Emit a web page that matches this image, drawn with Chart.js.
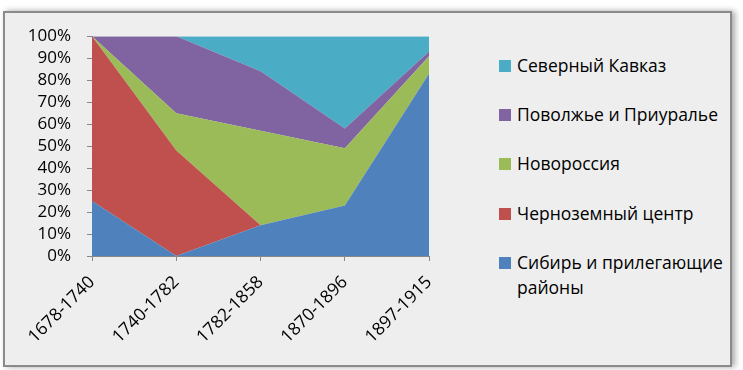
<!DOCTYPE html>
<html>
<head>
<meta charset="utf-8">
<script src="https://cdn.jsdelivr.net/npm/chart.js@4"></script>
<style>
  html, body { margin:0; padding:0; background:#ffffff; width:743px; height:370px; overflow:hidden; }
  #frame { position:absolute; left:3px; top:11px; width:725px; height:352px; border:2px solid #8a8a8a;
           background:#eeeeee; box-shadow: 3px 0px 6px rgba(0,0,0,0.35); }
  #wrap { position:absolute; left:0; top:-3px; width:450px; height:353px; }
  #legend { position:absolute; left:494px; top:0; font-family:"Open Sans", sans-serif; font-size:17.5px; color:#000; }
  .item { position:absolute; left:0; white-space:nowrap; line-height:25px; }
  .box { position:absolute; left:0; top:7px; width:12px; height:12px; }
  .txt { position:absolute; left:18px; top:0; }
</style>
</head>
<body>
<div id="frame">
  <div id="wrap"><canvas id="c"></canvas></div>
  <div id="legend"></div>
</div>
<script>
const categories = ["1678-1740", "1740-1782", "1782-1858", "1870-1896", "1897-1915"];
const seriesNames = ["Сибирь и прилегающие районы", "Черноземный центр", "Новороссия", "Поволжье и Приуралье", "Северный Кавказ"];
const siberia   = [25, 0, 14, 23, 83];
const chernozem = [75, 48, 0, 0, 0];
const novoross  = [0, 17, 43, 26, 8];
const povolzhye = [0, 35, 27, 9, 2];
const kavkaz    = [0, 0, 16, 42, 7];
const yTicks = [0, 10, 20, 30, 40, 50, 60, 70, 80, 90, 100];
const colors = ["#4F81BD", "#C0504D", "#9BBB59", "#8064A2", "#4BACC6"];

const values = [siberia, chernozem, novoross, povolzhye, kavkaz];
const datasets = values.map((v, i) => ({
  label: seriesNames[i],
  data: v,
  backgroundColor: colors[i],
  borderColor: colors[i],
  borderWidth: 0,
  pointRadius: 0,
  fill: i === 0 ? 'origin' : '-1',
  tension: 0
}));

Chart.defaults.font.family = '"Open Sans", sans-serif';
Chart.defaults.color = '#000';

new Chart(document.getElementById('c'), {
  type: 'line',
  data: { labels: categories, datasets },
  options: {
    responsive: true,
    maintainAspectRatio: false,
    animation: false,
    layout: { padding: { top: 18, right: 8, left: 0, bottom: 0 } },
    plugins: { legend: { display: false }, tooltip: { enabled: false } },
    scales: {
      x: {
        offset: false,
        grid: { drawOnChartArea: false, drawTicks: true, tickLength: 5, color: '#888' },
        border: { display: true, color: '#888' },
        ticks: { maxRotation: 45, minRotation: 45, autoSkip: false, font: { size: 17.5 }, padding: 11 },
        afterFit: s => { s.height = 107; }
      },
      y: {
        stacked: true,
        min: 0, max: 100,
        afterBuildTicks: s => { s.ticks = yTicks.map(v => ({ value: v })); },
        grid: { drawOnChartArea: false, drawTicks: true, tickLength: 5, color: '#888' },
        border: { display: true, color: '#888' },
        ticks: { autoSkip: false, font: { size: 17 }, padding: 16, callback: v => v + '%' },
        afterFit: s => { s.width = 87; }
      }
    }
  }
});

// HTML legend (reverse order)
const leg = document.getElementById('legend');
const rowsY = [40, 89, 138, 188, 237];
[4, 3, 2, 1, 0].forEach((idx, r) => {
  const d = document.createElement('div');
  d.className = 'item';
  d.style.top = rowsY[r] + 'px';
  const b = document.createElement('div');
  b.className = 'box';
  b.style.background = colors[idx];
  const t = document.createElement('div');
  t.className = 'txt';
  if (idx === 0) {
    t.innerHTML = 'Сибирь и прилегающие<br>районы';
  } else {
    t.textContent = seriesNames[idx];
  }
  d.appendChild(b); d.appendChild(t);
  leg.appendChild(d);
});
</script>
</body>
</html>
